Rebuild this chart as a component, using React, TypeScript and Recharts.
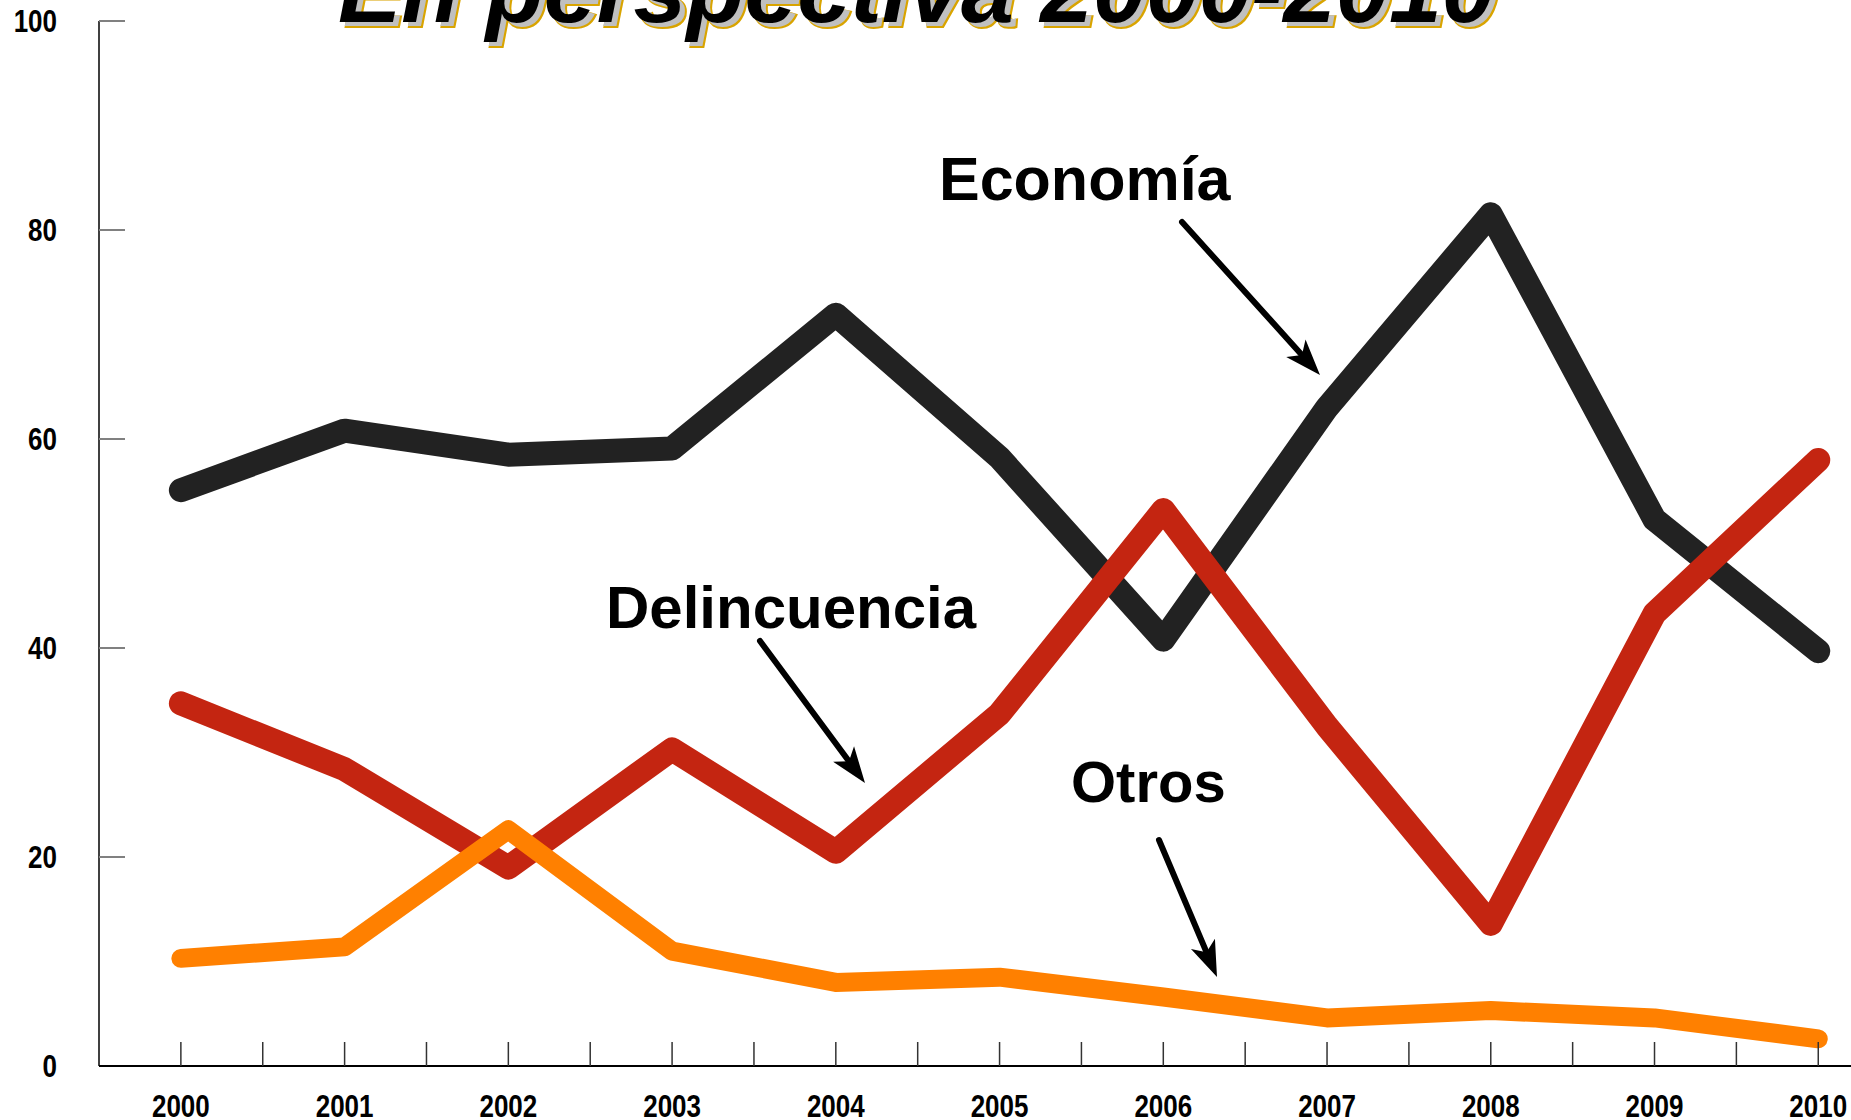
import { LineChart, Line, XAxis, YAxis } from 'recharts'

const years = [2000, 2001, 2002, 2003, 2004, 2005, 2006, 2007, 2008, 2009, 2010]
const economia = [55.1, 60.8, 58.5, 59.1, 71.9, 58.2, 40.8, 63.0, 81.5, 52.3, 39.7]
const delincuencia = [34.7, 28.4, 19.0, 30.3, 20.5, 33.7, 53.2, 32.5, 13.6, 43.3, 58.0]
const otros = [10.3, 11.4, 22.6, 11.0, 8.0, 8.5, 6.6, 4.6, 5.3, 4.6, 2.6]
const yTicks = [0, 20, 40, 60, 80, 100]
const xTicks = years.flatMap((y, i) => (i < years.length - 1 ? [y, y + 0.5] : [y]))

const data = years.map((year, i) => ({
  year,
  economia: economia[i],
  delincuencia: delincuencia[i],
  otros: otros[i],
}))

const FONT = '"Liberation Sans", Arial, sans-serif'

function XTick({ x, y, payload }: any) {
  const isYear = Number.isInteger(payload.value)
  return (
    <g>
      <line x1={x} y1={y} x2={x} y2={y - 24} stroke="#333" strokeWidth={1.5} />
      {isYear && (
        <text
          transform={`translate(${x},${y + 51}) scale(1,1.2)`}
          textAnchor="middle"
          fontFamily={FONT}
          fontWeight="bold"
          fontSize={26}
          fill="#000"
        >
          {payload.value}
        </text>
      )}
    </g>
  )
}

function YTick({ x, y, payload }: any) {
  return (
    <g>
      {payload.value !== 0 && <line x1={x} y1={y} x2={x + 26} y2={y} stroke="#808080" strokeWidth={2} />}
      <text
        transform={`translate(${x - 42},${y + 11}) scale(1,1.2)`}
        textAnchor="end"
        fontFamily={FONT}
        fontWeight="bold"
        fontSize={26}
        fill="#000"
      >
        {payload.value}
      </text>
    </g>
  )
}

function Arrow({ x1, y1, x2, y2 }: { x1: number; y1: number; x2: number; y2: number }) {
  const len = Math.hypot(x2 - x1, y2 - y1)
  const dx = (x2 - x1) / len
  const dy = (y2 - y1) / len
  const nx = -dy
  const ny = dx
  const L = 36
  const w = 13
  const notch = 9
  const bx = x2 - dx * L
  const by = y2 - dy * L
  const mx = x2 - dx * (L - notch)
  const my = y2 - dy * (L - notch)
  return (
    <g>
      <line x1={x1} y1={y1} x2={mx} y2={my} stroke="#000" strokeWidth={6} strokeLinecap="round" />
      <polygon points={`${x2},${y2} ${bx + nx * w},${by + ny * w} ${mx},${my} ${bx - nx * w},${by - ny * w}`} fill="#000" />
    </g>
  )
}

export default function App() {
  const title = 'En perspectiva 2000-2010'
  return (
    <div style={{ position: 'absolute', left: 0, top: 0, width: 1851, height: 1120, background: '#fff', overflow: 'hidden' }}>
      <LineChart width={1851} height={1120} data={data} margin={{ top: 21, right: 0, bottom: 0, left: 0 }}>
        <XAxis
          dataKey="year"
          type="number"
          domain={[1999.5, 2010.2]}
          ticks={xTicks}
          interval={0}
          height={54}
          tickSize={0}
          tickMargin={0}
          tickLine={false}
          axisLine={{ stroke: '#000', strokeWidth: 2 }}
          tick={<XTick />}
        />
        <YAxis
          type="number"
          domain={[0, 100]}
          ticks={yTicks}
          width={99}
          tickSize={0}
          tickMargin={0}
          tickLine={false}
          axisLine={{ stroke: '#000', strokeWidth: 1.5 }}
          tick={<YTick />}
        />
        <Line dataKey="economia" stroke="#222222" strokeWidth={24} strokeLinecap="round" strokeLinejoin="round" dot={false} isAnimationActive={false} />
        <Line dataKey="delincuencia" stroke="#c42511" strokeWidth={24} strokeLinecap="round" strokeLinejoin="round" dot={false} isAnimationActive={false} />
        <Line dataKey="otros" stroke="#ff8000" strokeWidth={19} strokeLinecap="round" strokeLinejoin="round" dot={false} isAnimationActive={false} />
      </LineChart>
      <svg width={1851} height={1120} style={{ position: 'absolute', left: 0, top: 0, pointerEvents: 'none' }}>
        <g fontFamily={FONT} fontWeight="bold" fontStyle="italic" fontSize={95}>
          <text x={344} y={27} fill="#d9a400" stroke="#d9a400" strokeWidth={2}>{title}</text>
          <text x={343} y={26} fill="#c0c0c0">{title}</text>
          <text x={338} y={22} fill="#000">{title}</text>
        </g>
        <g fontFamily={FONT} fontWeight="bold" fill="#000">
          <text x={939} y={200} fontSize={61}>Economía</text>
          <text x={606} y={628} fontSize={60}>Delincuencia</text>
          <text x={1071} y={802} fontSize={58}>Otros</text>
        </g>
        <Arrow x1={1182} y1={222} x2={1320} y2={375} />
        <Arrow x1={760} y1={641} x2={865} y2={783} />
        <Arrow x1={1159} y1={840} x2={1217} y2={977} />
      </svg>
    </div>
  )
}
